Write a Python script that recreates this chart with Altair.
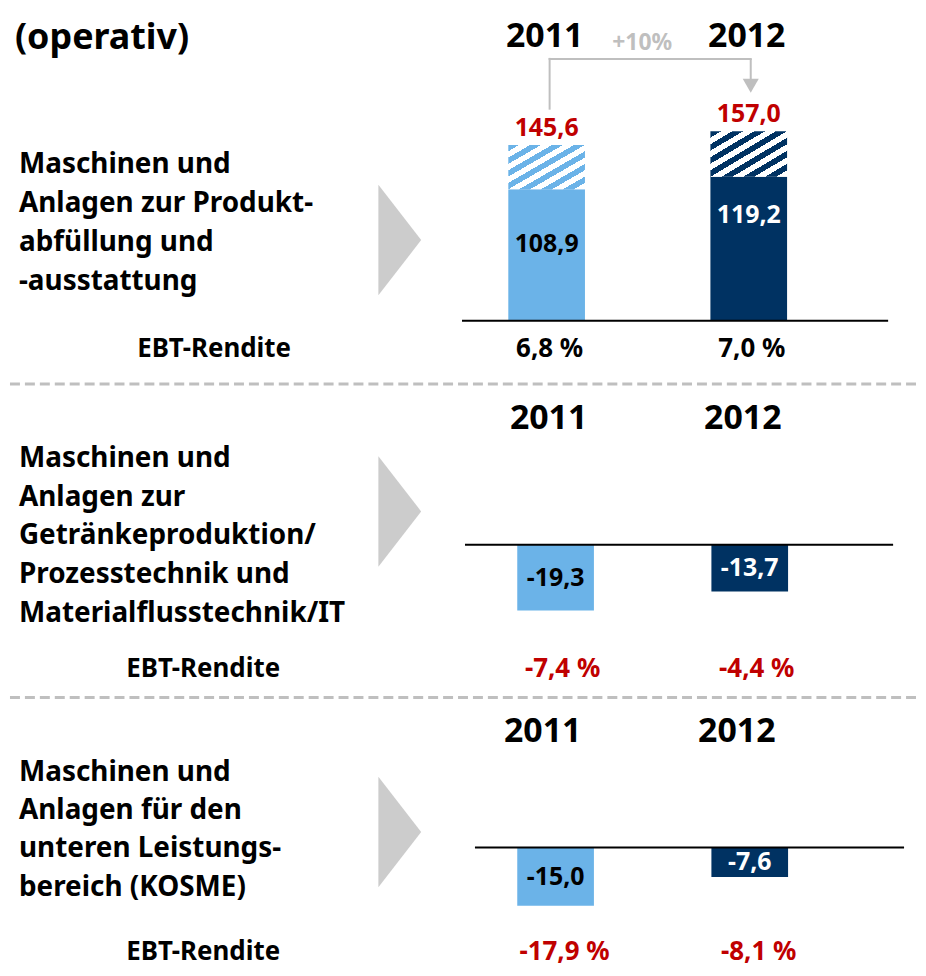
import altair as alt
import pandas as pd

# ---------------- data ----------------
years = ["2011", "2012"]
seg1_total = [145.6, 157.0]
seg1_base = [108.9, 119.2]
seg1_ebt = ["6,8 %", "7,0 %"]
seg2_value = [-19.3, -13.7]
seg2_ebt = ["-7,4 %", "-4,4 %"]
seg3_value = [-15.0, -7.6]
seg3_ebt = ["-17,9 %", "-8,1 %"]
growth_label = "+10%"
title_text = "(operativ)"
seg1_name = ["Maschinen und", "Anlagen zur Produkt-", "abfüllung und", "-ausstattung"]
seg2_name = ["Maschinen und", "Anlagen zur", "Getränkeproduktion/",
             "Prozesstechnik und", "Materialflusstechnik/IT"]
seg3_name = ["Maschinen und", "Anlagen für den", "unteren Leistungs-", "bereich (KOSME)"]
ebt_label = "EBT-Rendite"

# ---------------- style ----------------
FONT = "Noto Sans"
LIGHT = "#6bb3e8"
NAVY = "#003262"
RED = "#c00000"
GREY = "#bfbfbf"
CHEV = "#cccccc"
W = 910
BAR_W = 77


def de(v):
    return f"{v:.1f}".replace(".", ",")


one = pd.DataFrame({"k": [0]})
colscale = alt.Scale(domain=years, range=[LIGHT, NAVY])


def hatch(color, periods=7, frac=0.5):
    stops = []
    for i in range(periods):
        a = i / periods
        b = (i + frac) / periods
        c = (i + 1) / periods
        stops += [{"offset": a, "color": color}, {"offset": b, "color": color},
                  {"offset": b, "color": "#ffffff"}, {"offset": c, "color": "#ffffff"}]
    return {"gradient": "linear", "x1": 0, "y1": 0, "x2": 1, "y2": 1, "stops": stops}


def txt(text, x, y, size, color="black", align="left", lh=None):
    kw = dict(text=text, font=FONT, fontWeight="bold", fontSize=size, align=align,
              baseline="alphabetic", color=color)
    if lh is not None:
        kw["lineHeight"] = lh
    return alt.Chart(one).mark_text(**kw).encode(x=alt.value(x), y=alt.value(y))


def chevron(xc, yc, h=111, w=43):
    hw = w / h
    path = f"M{-hw:.3f},-1L{hw:.3f},0L{-hw:.3f},1Z"
    return alt.Chart(one).mark_point(shape=path, size=h * h, filled=True, color=CHEV,
                                     opacity=1, strokeWidth=0).encode(
        x=alt.value(xc), y=alt.value(yc))


def separator(y):
    return alt.Chart(one).mark_rule(color=GREY, strokeWidth=3, strokeDash=[10, 5]).encode(
        x=alt.value(0), x2=alt.value(W), y=alt.value(y))


def baseline(x0, x1, ys):
    return alt.Chart(one).mark_rule(color="black", strokeWidth=2).encode(
        x=alt.value(x0), x2=alt.value(x1), y=alt.YDatum(0, scale=ys, axis=None))


# ---------------- panel 1 ----------------
xs1 = alt.Scale(domain=years, range=[437.5, 843.5], paddingInner=0, paddingOuter=0)
ppu1 = 1.213
ys1 = alt.Scale(domain=[0, 160], range=[312, 312 - 160 * ppu1])
d1 = pd.DataFrame({"year": years, "base": seg1_base, "total": seg1_total, "ebt": seg1_ebt,
                   "base_lbl": [de(v) for v in seg1_base],
                   "total_lbl": [de(v) for v in seg1_total]})
X1 = alt.X("year:N", scale=xs1, axis=None)
Yb1 = alt.Y("base:Q", scale=ys1, axis=None)

p1_layers = [
    txt(title_text, 5, 39, 36),
    txt(seg1_name, 9, 164, 28, lh=39),
    chevron(391.5, 231),
    alt.Chart(d1).mark_text(font=FONT, fontWeight="bold", fontSize=34, dx=-2,
                            baseline="alphabetic").encode(
        x=X1, y=alt.value(37), text="year:N"),
    alt.Chart(d1).mark_bar(width=BAR_W).encode(
        x=X1, y=Yb1, color=alt.Color("year:N", scale=colscale, legend=None)),
    alt.Chart(d1).transform_filter(alt.datum.year == "2011").mark_bar(
        width=BAR_W, fill=hatch(LIGHT)).encode(x=X1, y=Yb1, y2="total:Q"),
    alt.Chart(d1).transform_filter(alt.datum.year == "2012").mark_bar(
        width=BAR_W, fill=hatch(NAVY)).encode(x=X1, y=Yb1, y2="total:Q"),
    alt.Chart(d1).mark_text(font=FONT, fontWeight="bold", fontSize=25, color=RED, dy=-9,
                            baseline="alphabetic").encode(
        x=X1, y=alt.Y("total:Q", scale=ys1, axis=None), text="total_lbl:N"),
    alt.Chart(d1).transform_filter(alt.datum.year == "2011").mark_text(
        font=FONT, fontWeight="bold", fontSize=25, color="black", dy=55, baseline="middle").encode(
        x=X1, y=Yb1, text="base_lbl:N"),
    alt.Chart(d1).transform_filter(alt.datum.year == "2012").mark_text(
        font=FONT, fontWeight="bold", fontSize=25, color="white", dy=38, baseline="middle").encode(
        x=X1, y=Yb1, text="base_lbl:N"),
    baseline(454, 882, ys1),
    # growth arrow
    alt.Chart(one).mark_rule(color=GREY, strokeWidth=2, strokeCap="square").encode(
        x=alt.value(542), y=alt.value(99), y2=alt.value(49)),
    alt.Chart(one).mark_rule(color=GREY, strokeWidth=2, strokeCap="square").encode(
        x=alt.value(542), x2=alt.value(744), y=alt.value(49)),
    alt.Chart(one).mark_rule(color=GREY, strokeWidth=2).encode(
        x=alt.value(744), y=alt.value(49), y2=alt.value(72)),
    alt.Chart(one).mark_point(shape="triangle-down", size=260, filled=True, color=GREY,
                              opacity=1).encode(x=alt.value(744), y=alt.value(76)),
    txt(growth_label, 635, 40, 23, color=GREY, align="center"),
    txt(ebt_label, 205, 348, 26, align="center"),
    alt.Chart(d1).mark_text(font=FONT, fontWeight="bold", fontSize=26, color="black", dx=3,
                            baseline="alphabetic").encode(
        x=X1, y=alt.value(348), text="ebt:N"),
    separator(375.5),
]
panel1 = alt.layer(*p1_layers).properties(width=W, height=377)


# ---------------- panels 2 and 3 ----------------
def neg_panel(values, ebt, names, height, base_y, ppu, year_y, year_dx, name_y, lh,
              chev_y, line_x, ebt_y, ebt_dx, sep_y=None):
    xs = alt.Scale(domain=years, range=[450.5, 840.5], paddingInner=0, paddingOuter=0)
    ys = alt.Scale(domain=[-30, 0], range=[base_y + 30 * ppu, base_y])
    d = pd.DataFrame({"year": years, "value": values, "ebt": ebt,
                      "lbl": [de(v) for v in values]})
    X = alt.X("year:N", scale=xs, axis=None)
    layers = [
        txt(names, 9, name_y, 28, lh=lh),
        chevron(391.5, chev_y),
        alt.Chart(d).mark_text(font=FONT, fontWeight="bold", fontSize=34, dx=year_dx,
                               baseline="alphabetic").encode(
            x=X, y=alt.value(year_y), text="year:N"),
        alt.Chart(d).mark_bar(width=BAR_W).encode(
            x=X, y=alt.Y("value:Q", scale=ys, axis=None), y2=alt.Y2Datum(0),
            color=alt.Color("year:N", scale=colscale, legend=None)),
        alt.Chart(d).transform_calculate(mid="datum.value / 2").mark_text(
            font=FONT, fontWeight="bold", fontSize=25, baseline="middle").encode(
            x=X, y=alt.Y("mid:Q", scale=ys, axis=None), text="lbl:N",
            color=alt.condition(alt.datum.year == "2011", alt.value("black"), alt.value("white"))),
        baseline(line_x[0], line_x[1], ys),
        txt(ebt_label, 194, ebt_y, 26, align="center"),
        alt.Chart(d).mark_text(font=FONT, fontWeight="bold", fontSize=26, color=RED, dx=ebt_dx,
                               baseline="alphabetic").encode(
            x=X, y=alt.value(ebt_y), text="ebt:N"),
    ]
    if sep_y is not None:
        layers.append(separator(sep_y))
    return alt.layer(*layers).properties(width=W, height=height)


panel2 = neg_panel(seg2_value, seg2_ebt, seg2_name, 315, 160, 3.42, 44, -7, 82, 38.8,
                   126.5, (457, 887), 293, 7, sep_y=313.5)
panel3 = neg_panel(seg3_value, seg3_ebt, seg3_name, 268, 149, 3.9, 43, -13, 82, 38.5,
                   133.5, (467, 898), 262, 9)

chart = alt.vconcat(panel1, panel2, panel3, spacing=0).properties(
    padding=0).configure_view(stroke=None)

chart.save("out.html", embed_options={"renderer": "svg", "actions": False})
